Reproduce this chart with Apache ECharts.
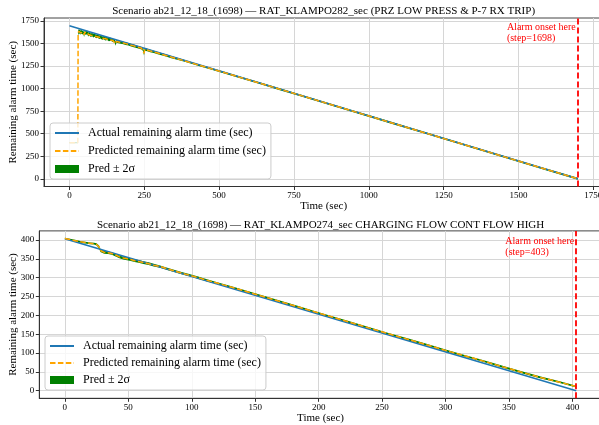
<!DOCTYPE html>
<html>
<head>
<meta charset="utf-8">
<script src="https://cdn.jsdelivr.net/npm/echarts@6/dist/echarts.min.js"></script>
<style>
  html, body { margin: 0; padding: 0; background: #fff; }
  #top, #bottom { width: 599px; }
  #top { height: 212px; }
  #bottom { height: 213px; }
</style>
</head>
<body>
<div id="top"></div>
<div id="bottom"></div>
<script>
const FONT = '"Liberation Serif", "Times New Roman", serif';

const actualName = 'Actual remaining alarm time (sec)';
const predName = 'Predicted remaining alarm time (sec)';
const bandName = 'Pred \u00b1 2\u03c3';

// --- top panel: RAT_KLAMPO282 ---
const topTitle = 'Scenario ab21_12_18_(1698) \u2014 RAT_KLAMPO282_sec (PRZ LOW PRESS & P-7 RX TRIP)';
const topAlarmStep = 1698;
const topAnnot = ['Alarm onset here', '(step=1698)'];
const topActualT = [0, 1698];
const topActualV = [1698, 0];
const topPredT = [0, 28, 29, 31, 33, 35, 38, 40, 43, 46,
  49, 51, 55, 59, 63, 67, 71, 76, 80, 84,
  89, 94, 99, 104, 109, 114, 120, 126, 132, 138,
  145, 151, 154, 157, 164, 172, 180, 188, 197, 206,
  215, 224, 233, 241, 246, 249, 252, 260, 270, 282,
  295, 310, 325, 340, 360, 385, 410, 440, 475, 520,
  570, 630, 700, 780, 860, 940, 1020, 1100, 1180, 1260,
  1340, 1420, 1500, 1580, 1650, 1698];
const topPredV = [401, 400, 1612, 1636, 1625, 1641, 1618, 1632, 1620, 1628,
  1596, 1622, 1615, 1624, 1601, 1609, 1592, 1600, 1586, 1594,
  1578, 1585, 1569, 1575, 1560, 1566, 1552, 1556, 1543, 1548,
  1533, 1530, 1498, 1524, 1518, 1511, 1506, 1499, 1491, 1482,
  1474, 1465, 1456, 1447, 1432, 1392, 1436, 1428, 1418, 1407,
  1394, 1379, 1365, 1350, 1331, 1307, 1282, 1253, 1219, 1175,
  1125, 1066, 996, 917, 837, 757, 677, 597, 517, 437,
  357, 277, 197, 117, 48, 1];
const topPredSigma = [3, 3, 14, 12, 11, 12, 10, 11, 10, 10,
  12, 10, 9, 10, 11, 9, 10, 9, 10, 9,
  10, 9, 10, 9, 9, 9, 9, 8, 9, 8,
  8, 8, 12, 8, 8, 7, 7, 7, 7, 7,
  7, 7, 7, 7, 8, 12, 8, 7, 7, 6,
  6, 6, 6, 6, 5, 5, 5, 5, 5, 5,
  5, 5, 5, 5, 5, 5, 5, 5, 5, 5,
  5, 5, 5, 5, 5, 5];
const topXTicks = [0, 250, 500, 750, 1000, 1250, 1500, 1750];
const topYTicks = [0, 250, 500, 750, 1000, 1250, 1500, 1750];

// --- bottom panel: RAT_KLAMPO274 ---
const botTitle = 'Scenario ab21_12_18_(1698) \u2014 RAT_KLAMPO274_sec CHARGING FLOW CONT FLOW HIGH';
const botAlarmStep = 403;
const botAnnot = ['Alarm onset here', '(step=403)'];
const botActualT = [0, 403];
const botActualV = [403, 0];
const botPredT = [0, 4, 8, 12, 16, 20, 23, 25, 27, 28,
  31, 34, 37, 40, 43, 46, 49, 52, 55, 58,
  62, 66, 70, 75, 80, 86, 92, 98, 105, 112,
  120, 130, 140, 150, 160, 172, 184, 196, 210, 225,
  240, 255, 270, 285, 300, 315, 330, 345, 360, 375,
  390, 403];
const botPredV = [404, 401, 398, 395, 393, 391, 390, 388, 381, 372,
  367, 366, 364, 360, 355, 352, 350, 348, 345, 343,
  340, 337, 333, 329.5, 324, 318, 312, 306.5, 300, 293,
  285.5, 276, 266, 256, 246, 234, 222, 210, 196, 181,
  166, 151, 136.5, 122, 107, 92.5, 78.5, 63.5, 49, 35,
  22.5, 11];
const botPredSigma = [1, 1, 1.2, 1.2, 1.2, 1.2, 1.2, 1.5, 2, 2,
  1.8, 1.8, 1.8, 1.8, 1.8, 1.8, 1.8, 1.8, 1.8, 1.8,
  1.8, 1.8, 1.8, 1.5, 1.5, 1.5, 1.5, 1.5, 1.5, 1.5,
  1.2, 1.2, 1.2, 1.2, 1.2, 1.2, 1.2, 1.2, 1.2, 1.2,
  1.2, 1.2, 1.2, 1.2, 1.2, 1.2, 1.2, 1.2, 1.2, 1.2,
  1.2, 1.2];
const botXTicks = [0, 50, 100, 150, 200, 250, 300, 350, 400];
const botYTicks = [0, 50, 100, 150, 200, 250, 300, 350, 400];

const measureCtx = document.createElement('canvas').getContext('2d');
function measure(text, size) {
  measureCtx.font = size + 'px ' + FONT;
  return measureCtx.measureText(text).width;
}

function buildPanel(el, p) {
  const chart = echarts.init(el, null, { renderer: 'canvas' });
  const W = 599;
  // band rows: [t, pred - 2σ, pred + 2σ]
  const band = p.predT.map((t, i) => [t, p.predV[i] - 2 * p.sigma[i], p.predV[i] + 2 * p.sigma[i]]);
  const pred = p.predT.map((t, i) => [t, p.predV[i]]);
  const actual = p.actualT.map((t, i) => [t, p.actualV[i]]);

  const plotCenter = (p.grid.left + W - p.grid.right) / 2;
  const titleLeft = plotCenter - measure(p.title, 11) / 2;

  const axisLine = { onZero: false, lineStyle: { color: '#333', width: 1 } };
  const tickLine = { color: '#333', width: 1 };
  const splitLine = { show: true, lineStyle: { color: '#d6d6d6', width: 1 } };
  const labelStyle = { fontFamily: FONT, fontSize: 9, color: '#000', formatter: v => String(v) };
  const nameStyle = { fontFamily: FONT, fontSize: 11, color: '#000' };

  chart.setOption({
    animation: false,
    title: {
      text: p.title, left: titleLeft, top: p.titleTop, padding: 0,
      textStyle: { fontFamily: FONT, fontSize: 11, fontWeight: 'normal', color: '#000' }
    },
    grid: Object.assign({
      show: true, borderColor: '#444', borderWidth: 1,
      containLabel: false, outerBoundsMode: 'none'
    }, p.grid),
    legend: {
      orient: 'vertical', left: p.legend.left, top: p.legend.top,
      itemWidth: 24, itemHeight: 8, itemGap: p.legend.gap,
      padding: [3, 5, 3, 4],
      backgroundColor: 'rgba(255,255,255,0.8)',
      borderColor: '#cccccc', borderWidth: 1, borderRadius: 3,
      textStyle: { fontFamily: FONT, fontSize: 12, color: '#000', lineHeight: 14, padding: [0, 0, 0, 4] },
      data: [
        { name: actualName, itemStyle: { opacity: 0 } },
        { name: predName, itemStyle: { opacity: 0 } },
        { name: bandName, icon: 'rect', itemStyle: { color: '#008000', opacity: 1 } }
      ]
    },
    xAxis: {
      type: 'value', min: p.xMin, max: p.xMax,
      name: 'Time (sec)', nameLocation: 'middle', nameGap: 14, nameMoveOverlap: false,
      nameTextStyle: nameStyle,
      axisLine: axisLine,
      axisTick: { show: true, length: 3.5, customValues: p.xTicks, lineStyle: tickLine },
      axisLabel: Object.assign({ customValues: p.xTicks, margin: 5 }, labelStyle),
      splitLine: splitLine
    },
    yAxis: {
      type: 'value', min: p.yMin, max: p.yMax,
      name: 'Remaining alarm time (sec)', nameLocation: 'middle', nameGap: p.yNameGap, nameMoveOverlap: false,
      nameTextStyle: nameStyle,
      axisLine: axisLine,
      axisTick: { show: true, length: 3.5, customValues: p.yTicks, lineStyle: tickLine },
      axisLabel: Object.assign({ customValues: p.yTicks, margin: 5 }, labelStyle),
      splitLine: splitLine
    },
    series: [
      {
        name: bandName, type: 'custom', data: band, silent: true, z: 1,
        itemStyle: { color: '#008000' },
        encode: { x: 0, y: [1, 2] },
        renderItem: (params, api) => {
          if (params.dataIndex !== 0) return;
          const upper = band.map(r => api.coord([r[0], r[2]]));
          const lowerPts = band.map(r => api.coord([r[0], r[1]])).reverse();
          return {
            type: 'polygon',
            shape: { points: upper.concat(lowerPts) },
            style: { fill: '#008000' }
          };
        }
      },
      {
        name: actualName, type: 'line', data: actual, symbol: 'none', color: '#1f77b4',
        lineStyle: { color: '#1f77b4', width: 1.5 }, z: 2,
        markLine: {
          symbol: 'none', silent: true, label: { show: false },
          lineStyle: { color: '#ff0000', type: [6, 3], width: 1.8 },
          data: [{ xAxis: p.alarmStep }]
        }
      },
      {
        name: predName, type: 'line', data: pred, symbol: 'none', color: '#ffa500',
        lineStyle: { color: '#ffa500', width: 1.5, type: [5.5, 2.4] }, z: 3
      }
    ]
  });

  const pt = chart.convertToPixel({ gridIndex: 0 }, [p.alarmStep, p.annotY]);
  const w = Math.max.apply(null, p.annot.map(s => measure(s, 10)));
  chart.setOption({
    graphic: p.annot.map((s, i) => ({
      type: 'text', silent: true,
      x: pt[0] - 2 - w, y: pt[1] + i * 11,
      style: { text: s, fill: '#ff0000', fontSize: 10, fontFamily: FONT, verticalAlign: 'top' }
    }))
  });
  return chart;
}

buildPanel(document.getElementById('top'), {
  title: topTitle, titleTop: 5.5,
  grid: { left: 44, right: -4.2, top: 18, bottom: 25.5 },
  legend: { left: 50, top: 123, gap: 4 },
  xMin: -85, xMax: 1783, yMin: -85, yMax: 1783,
  xTicks: topXTicks, yTicks: topYTicks, yNameGap: 25,
  actualT: topActualT, actualV: topActualV,
  predT: topPredT, predV: topPredV, sigma: topPredSigma,
  alarmStep: topAlarmStep, annot: topAnnot, annotY: 1740
});

buildPanel(document.getElementById('bottom'), {
  title: botTitle, titleTop: 7.5,
  grid: { left: 39.3, right: -2.8, top: 18.9, bottom: 26.7 },
  legend: { left: 45, top: 124, gap: 3 },
  xMin: -20.15, xMax: 423.15, yMin: -20.2, yMax: 424,
  xTicks: botXTicks, yTicks: botYTicks, yNameGap: 21,
  actualT: botActualT, actualV: botActualV,
  predT: botPredT, predV: botPredV, sigma: botPredSigma,
  alarmStep: botAlarmStep, annot: botAnnot, annotY: 410
});
</script>
</body>
</html>
